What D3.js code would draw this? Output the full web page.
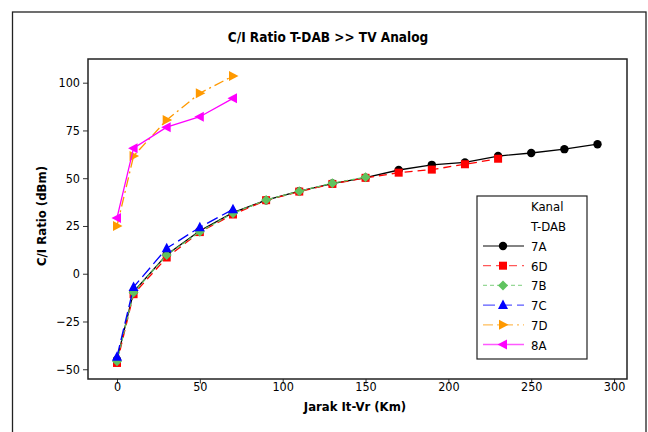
<!DOCTYPE html>
<html><head><meta charset="utf-8">
<script src="https://cdn.jsdelivr.net/npm/d3@7"></script>
<style>body{margin:0;background:#fff}svg{display:block}text{font-family:Tahoma,"DejaVu Sans Condensed","DejaVu Sans",sans-serif}</style>
</head><body>
<script>
const seriesNames = ["7A","6D","7B","7C","7D","8A"];
const x7A = [0,10,30,50,70,90,110,130,150,170,190,210,230,250,270,290];
const y7A = [-45,-9.5,10,22.5,32,38.5,43.2,47.2,50.3,54.3,57,58.3,61.6,63.2,65.2,67.8];
const x6D = [0,10,30,50,70,90,110,130,150,170,190,210,230];
const y6D = [-46.7,-10.7,8.5,21.8,31,38.5,43,47,50.2,52.9,54.5,57.3,60.2];
const x7B = [0,10,30,50,70,90,110,130,150];
const y7B = [-45.8,-9.8,9.8,22,31.7,38.6,43.2,47.4,50.5];
const x7C = [0,10,30,50,70];
const y7C = [-43.4,-7,13.3,24.3,33.7];
const x7D = [0,10,30,50,70];
const y7D = [25,61.6,80.5,94.5,103.5];
const x8A = [0,10,30,50,70];
const y8A = [29.2,65.7,76.7,82.2,91.8];
const xTicks = [0,50,100,150,200,250,300];
const yTicks = [-50,-25,0,25,50,75,100];

const series = [
  {name:"7A", xs:x7A, ys:y7A, color:"#000000", dash:null, sym:"circle"},
  {name:"6D", xs:x6D, ys:y6D, color:"#ff0000", dash:"8,5", sym:"square"},
  {name:"7B", xs:x7B, ys:y7B, color:"#5fc35f", dash:"4,3", sym:"diamond"},
  {name:"7C", xs:x7C, ys:y7C, color:"#0000ff", dash:"12,5", sym:"tri-up"},
  {name:"7D", xs:x7D, ys:y7D, color:"#ff9900", dash:"10,4,2,4", sym:"tri-right"},
  {name:"8A", xs:x8A, ys:y8A, color:"#ff00ff", dash:null, sym:"tri-left"}
];

const W=648,H=432;
const L=88,R=627,T=59,B=379;
const FF='Tahoma,"DejaVu Sans Condensed","DejaVu Sans",sans-serif';
const svg=d3.select("body").append("svg").attr("width",W).attr("height",H);
svg.append("rect").attr("x",12.5).attr("y",12).attr("width",633.5).attr("height",440)
  .attr("fill","none").attr("stroke","#222").attr("stroke-width",1.3);

const x=d3.scaleLinear().domain([-17.5,307.8]).range([L,R]);
const y=d3.scaleLinear().domain([-55.1,112.4]).range([B,T]);

svg.append("text").attr("x",328).attr("y",42).attr("text-anchor","middle")
  .attr("font-weight","bold").attr("font-size",13.5).text("C/I Ratio T-DAB >> TV Analog");

const xa=svg.append("g").attr("transform",`translate(0,${B})`)
  .call(d3.axisBottom(x).tickValues(xTicks).tickSize(4.5).tickSizeOuter(0));
xa.select(".domain").remove();
xa.selectAll("text").attr("font-size",12.5).attr("fill","#000").attr("y",12).attr("dy",0)
  .style("font-family",FF);
xa.selectAll("line").attr("stroke","#333");
const ya=svg.append("g").attr("transform",`translate(${L},0)`)
  .call(d3.axisLeft(y).tickValues(yTicks).tickSize(5).tickSizeOuter(0));
ya.select(".domain").remove();
ya.selectAll("text").attr("font-size",12.5).attr("fill","#000")
  .style("font-family",FF);
ya.selectAll("line").attr("stroke","#333");

svg.append("rect").attr("x",L).attr("y",T).attr("width",R-L).attr("height",B-T)
  .attr("fill","none").attr("stroke","#222").attr("stroke-width",1.5);

svg.append("text").attr("x",355).attr("y",411).attr("text-anchor","middle")
  .attr("font-weight","bold").attr("font-size",13).text("Jarak It-Vr (Km)");
svg.append("text").attr("transform","translate(46,216) rotate(-90)").attr("text-anchor","middle")
  .attr("font-weight","bold").attr("font-size",13).text("C/I Ratio (dBm)");

function marker(g,sym,cx,cy,color){
  let p;
  if(sym==="circle") p=g.append("circle").attr("cx",cx).attr("cy",cy).attr("r",4.2);
  else if(sym==="square") p=g.append("rect").attr("x",cx-4).attr("y",cy-4).attr("width",8).attr("height",8);
  else if(sym==="diamond") p=g.append("path").attr("d",`M${cx},${cy-5}L${cx+5},${cy}L${cx},${cy+5}L${cx-5},${cy}Z`);
  else if(sym==="tri-up") p=g.append("path").attr("d",`M${cx},${cy-5.5}L${cx+5},${cy+4}L${cx-5},${cy+4}Z`);
  else if(sym==="tri-right") p=g.append("path").attr("d",`M${cx+5.5},${cy}L${cx-4},${cy+5}L${cx-4},${cy-5}Z`);
  else p=g.append("path").attr("d",`M${cx-5.5},${cy}L${cx+4},${cy+5}L${cx+4},${cy-5}Z`);
  p.attr("fill",color);
}

const line=d3.line().x(d=>x(d[0])).y(d=>y(d[1]));
series.forEach(s=>{
  const pts=s.xs.map((v,i)=>[v,s.ys[i]]);
  const g=svg.append("g");
  g.append("path").attr("d",line(pts)).attr("fill","none").attr("stroke",s.color)
    .attr("stroke-width",1.3).attr("stroke-dasharray",s.dash);
  pts.forEach(p=>marker(g,s.sym,x(p[0]),y(p[1]),s.color));
});

// legend
const lg=svg.append("g");
lg.append("rect").attr("x",477).attr("y",196).attr("width",110).attr("height",163)
  .attr("fill","#fff").attr("stroke","#222").attr("stroke-width",1.2);
lg.append("text").attr("x",531).attr("y",211).attr("font-size",13).text("Kanal");
lg.append("text").attr("x",531).attr("y",231).attr("font-size",13).text("T-DAB");
series.forEach((s,i)=>{
  const cy=246+i*19.7;
  lg.append("line").attr("x1",483).attr("x2",524).attr("y1",cy).attr("y2",cy)
    .attr("stroke",s.color).attr("stroke-opacity",0.65).attr("stroke-width",1.3).attr("stroke-dasharray",s.dash);
  marker(lg,s.sym,503,cy,s.color);
  lg.append("text").attr("x",531).attr("y",cy+5).attr("font-size",13).text(s.name);
});
</script>
</body></html>
